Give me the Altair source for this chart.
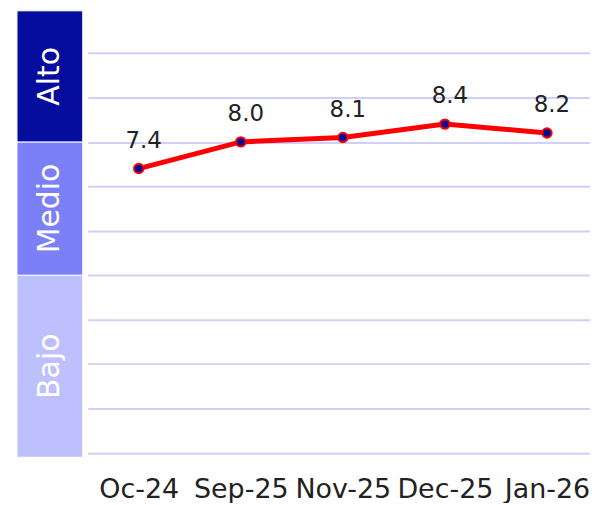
import altair as alt
import pandas as pd

# --- data ---
months = ["Oc-24", "Sep-25", "Nov-25", "Dec-25", "Jan-26"]
values = [7.4, 8.0, 8.1, 8.4, 8.2]
value_labels = ["7.4", "8.0", "8.1", "8.4", "8.2"]

band_names = ["Bajo", "Medio", "Alto"]
band_start = [0.9, 5, 8]
band_end = [5, 8, 10.95]
band_colors = ["#BEC0FD", "#7B80F9", "#060C9E"]

grid_values = [1, 2, 3, 4, 5, 6, 7, 8, 9, 10]
y_domain = [0.9, 10.95]

FONT = "DejaVu Sans"

df = pd.DataFrame({"month": months, "value": values, "label": value_labels})
bands = pd.DataFrame({"name": band_names, "start": band_start, "end": band_end})
bands["mid"] = (bands["start"] + bands["end"]) / 2

yscale = alt.Scale(domain=y_domain, nice=False, zero=False)

band_rect = alt.Chart(bands).mark_rect(stroke="white", strokeWidth=1).encode(
    y=alt.Y("start:Q", scale=yscale, axis=None),
    y2="end:Q",
    color=alt.Color("name:N", scale=alt.Scale(domain=band_names, range=band_colors), legend=None),
)
band_text = alt.Chart(bands).mark_text(
    angle=270, color="white", fontSize=30, font=FONT, align="center", baseline="middle"
).encode(
    y=alt.Y("mid:Q", scale=yscale, axis=None),
    text="name:N",
)
left = alt.layer(band_rect, band_text).properties(width=66, height=448)

xenc = alt.X(
    "month:N",
    sort=months,
    scale=alt.Scale(type="point", padding=0.5),
    axis=alt.Axis(
        title=None, labelAngle=0, labelFontSize=27, labelFont=FONT, labelColor="#222222",
        ticks=False, domain=False, grid=False, labelPadding=19,
    ),
)
yenc = alt.Y(
    "value:Q",
    scale=yscale,
    axis=alt.Axis(
        title=None, labels=False, ticks=False, domain=False, grid=True,
        values=grid_values, gridColor="#CFCFF9", gridWidth=2,
    ),
)

base = alt.Chart(df).encode(x=xenc, y=yenc)
line = base.mark_line(color="#FF0000", strokeWidth=5)
pts = base.mark_point(filled=True, fill="#06069A", stroke="#FF0000", strokeWidth=2, size=90, opacity=1)
txt = base.mark_text(
    baseline="bottom", dy=-16, dx=5, fontSize=23, font=FONT, color="#222222"
).encode(text="label:N")

right = alt.layer(line, pts, txt).properties(width=512, height=448)

chart = alt.hconcat(left, right, spacing=4).properties(
    padding={"left": 8, "top": 1, "right": -8, "bottom": 0}
).configure_view(stroke=None)

chart.save("out.html", embed_options={"renderer": "svg", "actions": False})
